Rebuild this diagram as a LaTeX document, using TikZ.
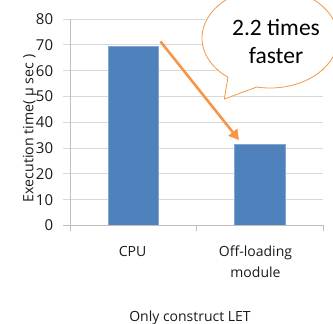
\documentclass[tikz,border=0pt]{standalone}
\usepackage{fontspec}
\setmainfont{Open Sans}
\newfontfamily\calloutfont{Carlito}
\usetikzlibrary{arrows.meta}
\definecolor{barblue}{HTML}{4F81BD}
\definecolor{gridgray}{HTML}{D9D9D9}
\definecolor{axisgray}{HTML}{BFBFBF}
\definecolor{accent}{HTML}{F79646}
\definecolor{textgray}{HTML}{1A1A1A}
\tikzset{
  gridline/.style={draw=gridgray, line width=0.9pt},
  axisline/.style={draw=axisgray, line width=0.9pt},
  bar/.style={fill=barblue, draw=barblue!70!white, line width=0.6pt},
  ticklabel/.style={anchor=east, inner sep=0pt, font=\fontsize{15}{16}\selectfont, text=textgray},
  catlabel/.style={anchor=base, inner sep=0pt, align=center, font=\fontsize{14}{21.5}\selectfont, text=textgray},
  callout/.style={draw=accent, fill=white, line width=0.8pt, line join=miter},
  pointer/.style={draw=accent, line width=2.6pt, -{Triangle[length=10pt,width=11pt]}}
}
\begin{document}
\begin{tikzpicture}[x=1pt,y=1pt]
\useasboundingbox (0,0) rectangle (333,324);
\clip (0,0) rectangle (333,324);
% value axis: zero at y=98.5, 2.58 per unit
\foreach \v in {10,20,...,80}{
  \draw[gridline] (63,{98.5+2.58*\v}) -- (323,{98.5+2.58*\v});
}
\foreach \v in {0,10,...,80}{
  \node[ticklabel] at (53.3,{98.5+2.58*\v}) {\v};
}
% bars
\node[bar, minimum width=50pt, minimum height={2.58*69.3pt}, anchor=south, inner sep=0pt] (cpu) at (133.3,98.5) {};
\node[bar, minimum width=51pt, minimum height={2.58*31.2pt}, anchor=south, inner sep=0pt] (off) at (259.5,98.5) {};
% axes
\draw[axisline] (70,98.5) -- (70,304.9);
\draw[axisline] (63,98.5) -- (323,98.5);
\foreach \x in {70,196.5,323}{
  \draw[axisline] (\x,98.5) -- (\x,92.5);
}
% axis titles and category labels
\node[rotate=90, anchor=base, inner sep=0pt, font=\fontsize{14.2}{16}\selectfont, text=textgray] (ytitle) at (33.3,195.5) {Execution time( μ sec )};
\node[catlabel] (cpulabel) at (132.5,67.5) {CPU};
\node[catlabel] (offlabel) at (255.5,46) {Off-loading\\module};
\node[anchor=base, inner sep=0pt, font=\fontsize{14}{16}\selectfont, text=textgray] (xtitle) at (190,2.5) {Only construct LET};
% speed-up arrow between the two bars
\coordinate (arrowstart) at (160.5,282.5);
\coordinate (arrowend) at (239,184);
\draw[pointer] (arrowstart) -- (arrowend);
% speech bubble
\draw[callout] (270,286) ++(258.7:68 and 50) arc[start angle=258.7, end angle=591.8, x radius=68, y radius=50] -- (224.3,225) -- cycle;
\node[align=center, inner sep=0pt, font=\calloutfont\fontsize{23.5}{28}\selectfont] (note) at (276,283) {2.2 times\\faster};
\end{tikzpicture}
\end{document}
